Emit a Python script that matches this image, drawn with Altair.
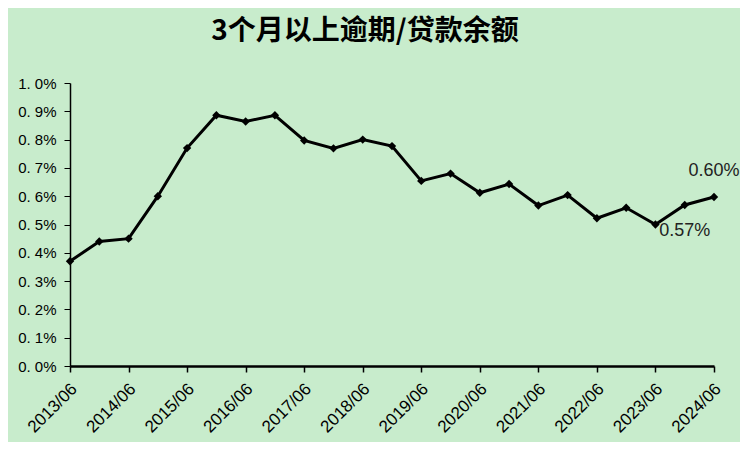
import altair as alt
import pandas as pd

periods = []
for y in range(2013, 2025):
    periods.append(f"{y}/06")
    if y < 2024:
        periods.append(f"{y}/12")

values = [0.37, 0.44, 0.45, 0.60, 0.77, 0.886, 0.864, 0.886, 0.797, 0.769,
          0.80, 0.777, 0.654, 0.68, 0.612, 0.643, 0.567, 0.604, 0.522, 0.559,
          0.50, 0.569, 0.597]

year_ticks = [p for p in periods if p.endswith("/06")]
y_ticks = [0.0, 0.1, 0.2, 0.3, 0.4, 0.5, 0.6, 0.7, 0.8, 0.9, 1.0]

label_above = {"2024/06": "0.60%"}
label_below = {"2023/12": "0.57%"}

df = pd.DataFrame({"period": periods, "value": values})
df["above"] = [label_above.get(p, "") for p in periods]
df["below"] = [label_below.get(p, "") for p in periods]

x_enc = alt.X("period:N", sort=None,
              scale=alt.Scale(type="point", padding=0),
              axis=alt.Axis(values=year_ticks, title=None, labelAngle=-45,
                            labelAlign="right", labelBaseline="middle",
                            labelFont="Liberation Sans", labelFontSize=17,
                            labelColor="#000", tickColor="#000", tickSize=6,
                            domainColor="#000", domainWidth=2.5, tickWidth=1.5,
                            labelPadding=14, labelOffset=4, labelOverlap=False,
                            grid=False))
y_enc = alt.Y("value:Q",
              scale=alt.Scale(domain=[0, 1.0], nice=False, zero=True),
              axis=alt.Axis(values=y_ticks, title=None, tickCount=11,
                            labelExpr="replace(format(datum.value, '.1f'), '.', '.\u00a0') + '%'",
                            labelFont="Liberation Sans", labelFontSize=15,
                            labelColor="#000", tickColor="#000", tickSize=6,
                            domainColor="#000", domainWidth=1.5, labelPadding=8,
                            labelOverlap=False, grid=False))

base = alt.Chart(df).encode(x=x_enc, y=y_enc)
line = base.mark_line(color="#000", strokeWidth=3)
pts = base.mark_point(shape="diamond", filled=True, color="#000", size=70,
                      opacity=1)
txt_a = base.transform_filter("datum.above != ''").mark_text(
    dy=-26, fontSize=18, font="Liberation Sans", color="#222").encode(
    text="above:N")
txt_b = base.transform_filter("datum.below != ''").mark_text(
    dy=26, fontSize=18, font="Liberation Sans", color="#222").encode(
    text="below:N")

chart = alt.layer(line, pts, txt_a, txt_b).properties(
    width=644, height=283,
    title=alt.TitleParams("3个月以上逾期/贷款余额", font="Noto Sans CJK SC",
                          fontSize=28, fontWeight="bold", color="#000",
                          anchor="middle", dx=-27, offset=2, baseline="bottom"),
    autosize=alt.AutoSizeParams(type="none"),
    padding={"left": 62, "top": 75, "right": 26, "bottom": 76},
    background="#C8ECCC",
).configure_view(stroke=None)

chart.save("out.html", embed_options={"renderer": "svg", "actions": False})
